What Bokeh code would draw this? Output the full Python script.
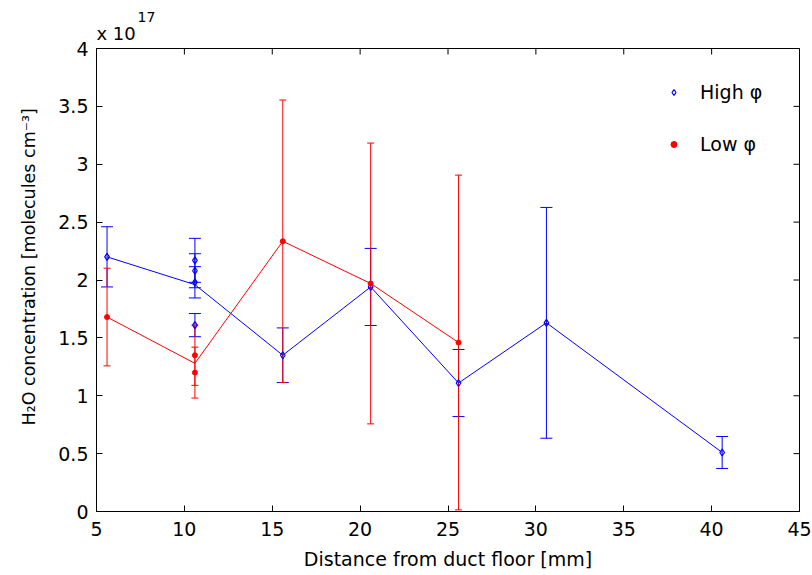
import math
from bokeh.plotting import figure
from bokeh.models import (Whisker, ColumnDataSource, FixedTicker, Title,
                          Legend, LegendItem, TeeHead)
from bokeh.embed import file_html
from bokeh.resources import INLINE

# ---------------- data (values in units of 1e17 molecules cm^-3) ----------------
x_ticks = [5, 10, 15, 20, 25, 30, 35, 40, 45]
x_tick_labels = ["5", "10", "15", "20", "25", "30", "35", "40", "45"]
y_ticks = [0, 0.5, 1, 1.5, 2, 2.5, 3, 3.5, 4]
y_tick_labels = ["0", "0.5", "1", "1.5", "2", "2.5", "3", "3.5", "4"]

high_line_x = [5.6, 10.6, 15.6, 20.6, 25.6, 30.6, 40.6]
high_line_y = [2.20, 1.96, 1.35, 1.94, 1.11, 1.63, 0.51]
high_pts_x = [5.6, 10.6, 10.6, 10.6, 10.6, 15.6, 20.6, 25.6, 30.6, 40.6]
high_pts_y = [2.20, 2.17, 2.08, 1.98, 1.61, 1.35, 1.94, 1.11, 1.63, 0.51]
high_err = [0.26, 0.19, 0.147, 0.135, 0.10, 0.236, 0.333, 0.29, 0.997, 0.138]

low_line_x = [5.6, 10.6, 15.6, 20.6, 25.6]
low_line_y = [1.68, 1.28, 2.335, 1.97, 1.46]
low_pts_x = [5.6, 10.6, 10.6, 15.6, 20.6, 25.6]
low_pts_y = [1.68, 1.35, 1.20, 2.335, 1.97, 1.46]
low_err = [0.422, 0.26, 0.22, 1.22, 1.213, 1.446]

series_names = ["High φ", "Low φ"]
x_label = "Distance from duct floor [mm]"
y_label = "H₂O concentration [molecules cm⁻³]"
exp_base = "x 10"
exp_power = "17"

FONT = "DejaVu Sans"
BLUE = "#0000ff"
RED = "#ff0000"

p = figure(width=812, height=575, x_range=(x_ticks[0], x_ticks[-1]),
           y_range=(y_ticks[0], y_ticks[-1]),
           output_backend="svg", toolbar_location=None,
           min_border_left=96, min_border_right=13, min_border_top=48, min_border_bottom=64,
           background_fill_color="white", border_fill_color="white")
p.title = None
p.grid.visible = False
p.outline_line_color = "black"
p.outline_line_width = 1

def style_axis(ax, ticks, labels):
    ax.ticker = FixedTicker(ticks=ticks)
    ax.major_label_overrides = {t: l for t, l in zip(ticks, labels)}
    ax.major_tick_in = 6
    ax.major_tick_out = 0
    ax.minor_tick_in = 0
    ax.minor_tick_out = 0
    ax.major_tick_line_color = "black"
    ax.axis_line_color = "black"
    ax.major_label_text_font = FONT
    ax.major_label_text_color = "black"
    ax.major_label_text_font_size = "19px"
    ax.axis_label_text_font = FONT
    ax.axis_label_text_font_style = "normal"
    ax.axis_label_text_color = "black"

xa = p.xaxis[0]
ya = p.yaxis[0]
style_axis(xa, x_ticks, x_tick_labels)
style_axis(ya, y_ticks, y_tick_labels)
xa.axis_label = x_label
xa.axis_label_text_font_size = "19px"
xa.major_label_standoff = 10
xa.axis_label_standoff = 9
ya.major_label_standoff = 8

# y-axis label as a left title, anchored near the bottom of the axis like the reference
p.add_layout(Title(text=y_label, align="left", offset=86, standoff=33,
                   text_font=FONT, text_font_size="17.5px", text_font_style="normal",
                   text_color="black"), "left")

# inward ticks on the top and right edges of the box (half of each dash is clipped by the frame)
top_ticks = ColumnDataSource(dict(x=x_ticks, y=[y_ticks[-1]] * len(x_ticks)))
right_ticks = ColumnDataSource(dict(x=[x_ticks[-1]] * len(y_ticks), y=y_ticks))
p.scatter("x", "y", source=top_ticks, marker="dash", size=12, angle=math.pi / 2,
          line_color="black", line_width=1)
p.scatter("x", "y", source=right_ticks, marker="dash", size=12,
          line_color="black", line_width=1)

# ---------------- High phi ----------------
hi_pts = ColumnDataSource(dict(x=high_pts_x, y=high_pts_y,
                               lower=[y - e for y, e in zip(high_pts_y, high_err)],
                               upper=[y + e for y, e in zip(high_pts_y, high_err)]))
p.line(high_line_x, high_line_y, line_color=BLUE, line_width=1)
p.add_layout(Whisker(source=hi_pts, base="x", upper="upper", lower="lower",
                     line_color=BLUE, line_width=1,
                     upper_head=TeeHead(size=12, line_color=BLUE, line_width=1),
                     lower_head=TeeHead(size=12, line_color=BLUE, line_width=1)))
r_hi = p.scatter("x", "y", source=hi_pts, marker="diamond", size=7,
                 line_color=BLUE, line_width=1.2, fill_alpha=0)

# ---------------- Low phi ----------------
lo_pts = ColumnDataSource(dict(x=low_pts_x, y=low_pts_y,
                               lower=[y - e for y, e in zip(low_pts_y, low_err)],
                               upper=[y + e for y, e in zip(low_pts_y, low_err)]))
p.line(low_line_x, low_line_y, line_color=RED, line_width=1)
p.add_layout(Whisker(source=lo_pts, base="x", upper="upper", lower="lower",
                     line_color=RED, line_width=1,
                     upper_head=TeeHead(size=7, line_color=RED, line_width=1),
                     lower_head=TeeHead(size=7, line_color=RED, line_width=1)))
r_lo = p.scatter("x", "y", source=lo_pts, marker="circle", size=5,
                 line_color=RED, fill_color=RED)

# ---------------- exponent (x 10^17) as two stacked titles ----------------
p.add_layout(Title(text=exp_base, align="left", offset=0, standoff=9,
                   text_font=FONT, text_font_size="18px", text_font_style="normal",
                   text_color="black"), "above")
p.add_layout(Title(text=exp_power, align="left", offset=41, standoff=-11,
                   text_font=FONT, text_font_size="14px", text_font_style="normal",
                   text_color="black"), "above")

# ---------------- legend ----------------
legend = Legend(items=[LegendItem(label=series_names[0], renderers=[r_hi]),
                       LegendItem(label=series_names[1], renderers=[r_lo])],
                location=(570, 356), border_line_color=None, background_fill_alpha=0,
                padding=0, margin=0, spacing=30, glyph_width=15, glyph_height=22,
                label_height=22, label_standoff=19,
                label_text_font=FONT, label_text_font_size="19px", label_text_color="black")
p.add_layout(legend)

open("out.html", "w").write(file_html(p, INLINE))
